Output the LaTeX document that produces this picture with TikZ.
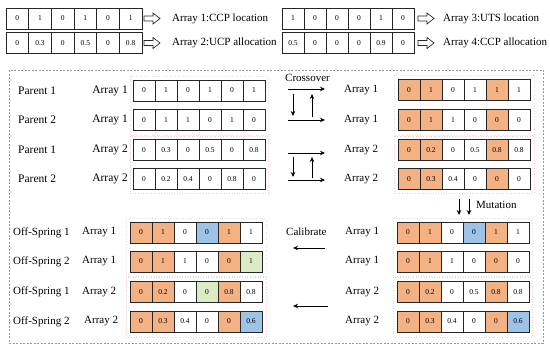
\documentclass[tikz,border=0pt]{standalone}
\usepackage{fontspec}
\setmainfont{Liberation Serif}
\usetikzlibrary{arrows.meta}
\definecolor{orng}{HTML}{F4B183}
\definecolor{blu}{HTML}{9DC3E6}
\definecolor{grn}{HTML}{DCEBC3}
\tikzset{
 cell/.style={draw=black!85, line width=0.7pt, minimum height=21pt, inner sep=0pt, font=\fontsize{7.5}{8}\selectfont},
 lbl/.style={font=\fontsize{11}{13}\selectfont, inner sep=0pt},
 plbl/.style={font=\fontsize{11.5}{13}\selectfont, inner sep=0pt},
 arr/.style={-{Stealth[length=5pt,width=4.5pt]}, line width=1pt},
 hollow/.style={line width=0.7pt, draw=black!85},
 outerbox/.style={draw=black!40, dashed, dash pattern=on 2pt off 1.5pt, line width=0.6pt},
 graybox/.style={draw=black!12, dotted, line width=0.6pt},
 pinkbox/.style={draw=red!22, dotted, line width=0.6pt},
}
\newcommand\cellrow[5]{%
 \foreach \v/\c [count=\i] in {#5} {\node[cell, minimum width=#4pt, fill=\c] (#1-\i) at ({#2+(\i-0.5)*#4}, #3) {\v};}}
\newcommand\hollowarrow[2]{%
 \draw[hollow] (#1,#2-2.5) -- (#1+9,#2-2.5) -- (#1+9,#2-5.5) -- (#1+16,#2) -- (#1+9,#2+5.5) -- (#1+9,#2+2.5) -- (#1,#2+2.5) -- cycle;}
\begin{document}
\begin{tikzpicture}[x=1pt,y=-1pt]
\useasboundingbox (0,0) rectangle (550,348);
% top legend
\cellrow{ta}{6}{18.5}{22.67}{0/white,1/white,0/white,1/white,0/white,1/white}
\cellrow{tb}{6}{43}{22.67}{0/white,0.3/white,0/white,0.5/white,0/white,0.8/white}
\cellrow{tc}{282}{18.5}{22}{1/white,0/white,0/white,0/white,1/white,0/white}
\cellrow{td}{282}{43}{22}{0.5/white,0/white,0/white,0/white,0.9/white,0/white}
\hollowarrow{144}{18.5}
\hollowarrow{144}{43}
\hollowarrow{418}{18.5}
\hollowarrow{418}{43}
\node[lbl, anchor=west] (la) at (172,18.5) {Array 1:CCP location};
\node[lbl, anchor=west] (lb) at (172,43) {Array 2:UCP allocation};
\node[lbl, anchor=west] (lc) at (443,18.5) {Array 3:UTS location};
\node[lbl, anchor=west] (ld) at (443,43) {Array 4:CCP allocation};
% outer box
\draw[outerbox] (9,70) rectangle (543,343);
% faint group boxes
\draw[graybox] (130,76) rectangle (268,135);
\draw[pinkbox] (130,136) rectangle (268,193);
\draw[graybox] (394,75) rectangle (534,135);
\draw[pinkbox] (394,136) rectangle (534,193);
\draw[graybox] (126,218) rectangle (266,276);
\draw[pinkbox] (126,277) rectangle (266,337);
\draw[graybox] (393,218) rectangle (532,276);
\draw[pinkbox] (393,277) rectangle (532,337);
% parents
\cellrow{pa}{133}{90.5}{22}{0/white,1/white,0/white,1/white,0/white,1/white}
\cellrow{pb}{133}{120}{22}{0/white,1/white,1/white,0/white,1/white,0/white}
\cellrow{pc}{133}{150}{22}{0/white,0.3/white,0/white,0.5/white,0/white,0.8/white}
\cellrow{pd}{133}{179}{22}{0/white,0.2/white,0.4/white,0/white,0.8/white,0/white}
\node[plbl, anchor=west] (n1) at (18,90.5) {Parent 1};
\node[plbl, anchor=west] (n2) at (18,120) {Parent 2};
\node[plbl, anchor=west] (n3) at (18,150) {Parent 1};
\node[plbl, anchor=west] (n4) at (18,179) {Parent 2};
\node[plbl, anchor=east] (a1) at (128,90.5) {Array 1};
\node[plbl, anchor=east] (a2) at (128,120) {Array 1};
\node[plbl, anchor=east] (a3) at (128,150) {Array 2};
\node[plbl, anchor=east] (a4) at (128,179) {Array 2};
% crossover result
\cellrow{ca}{398}{90}{22}{0/orng,1/orng,0/white,1/white,1/orng,1/white}
\cellrow{cb}{398}{120}{22}{0/orng,1/orng,1/white,0/white,0/orng,0/white}
\cellrow{cc}{398}{150}{22}{0/orng,0.2/orng,0/white,0.5/white,0.8/orng,0.8/white}
\cellrow{cd}{398}{179}{22}{0/orng,0.3/orng,0.4/white,0/white,0/orng,0/white}
\node[lbl, anchor=west] (b1) at (344,90) {Array 1};
\node[lbl, anchor=west] (b2) at (344,120) {Array 1};
\node[lbl, anchor=west] (b3) at (344,150) {Array 2};
\node[lbl, anchor=west] (b4) at (344,179) {Array 2};
% crossover arrows
\node[lbl, anchor=west] (cross) at (285,78) {Crossover};
\coordinate (h1s) at (288,89); \coordinate (h1e) at (325,89);
\coordinate (h2s) at (288,120); \coordinate (h2e) at (325,120);
\coordinate (d1s) at (293,94); \coordinate (d1e) at (293,116);
\coordinate (u1s) at (312,117); \coordinate (u1e) at (312,94);
\draw[arr] (h1s) -- (h1e);
\draw[arr] (h2s) -- (h2e);
\draw[arr] (d1s) -- (d1e);
\draw[arr] (u1s) -- (u1e);
\coordinate (h3s) at (288,153); \coordinate (h3e) at (325,153);
\coordinate (h4s) at (288,180); \coordinate (h4e) at (325,180);
\coordinate (d2s) at (293,157); \coordinate (d2e) at (293,177);
\coordinate (u2s) at (312,178); \coordinate (u2e) at (312,157);
\draw[arr] (h3s) -- (h3e);
\draw[arr] (h4s) -- (h4e);
\draw[arr] (d2s) -- (d2e);
\draw[arr] (u2s) -- (u2e);
% mutation
\coordinate (m1s) at (459,199); \coordinate (m1e) at (459,215);
\coordinate (m2s) at (469,199); \coordinate (m2e) at (469,215);
\draw[arr] (m1s) -- (m1e);
\draw[arr] (m2s) -- (m2e);
\node[lbl, anchor=west] (mut) at (476,205) {Mutation};
% mutated arrays
\cellrow{ma}{397}{232.5}{22}{0/orng,1/orng,0/white,0/blu,1/orng,1/white}
\cellrow{mb}{397}{261.5}{22}{0/orng,1/orng,1/white,0/white,0/orng,0/white}
\cellrow{mc}{397}{292}{22}{0/orng,0.2/orng,0/white,0.5/white,0.8/orng,0.8/white}
\cellrow{md}{397}{321.5}{22}{0/orng,0.3/orng,0.4/white,0/white,0/orng,0.6/blu}
\node[lbl, anchor=west] (e1) at (345,232.5) {Array 1};
\node[lbl, anchor=west] (e2) at (345,261.5) {Array 1};
\node[lbl, anchor=west] (e3) at (345,292) {Array 2};
\node[lbl, anchor=west] (e4) at (345,321.5) {Array 2};
% calibrate
\node[lbl, anchor=west] (cal) at (286,232) {Calibrate};
\coordinate (k1s) at (325,248); \coordinate (k1e) at (293,248);
\coordinate (k2s) at (328,306); \coordinate (k2e) at (293,306);
\draw[arr] (k1s) -- (k1e);
\draw[arr] (k2s) -- (k2e);
% offspring
\cellrow{oa}{130}{232.5}{22}{0/orng,1/orng,0/white,0/blu,1/orng,1/white}
\cellrow{ob}{130}{261.5}{22}{0/orng,1/orng,1/white,0/white,0/orng,1/grn}
\cellrow{oc}{130}{292}{22}{0/orng,0.2/orng,0/white,0/grn,0.8/orng,0.8/white}
\cellrow{od}{130}{321.5}{22}{0/orng,0.3/orng,0.4/white,0/white,0/orng,0.6/blu}
\node[lbl, anchor=west] (f1) at (13,232.5) {Off-Spring 1};
\node[lbl, anchor=west] (f2) at (13,261.5) {Off-Spring 2};
\node[lbl, anchor=west] (f3) at (13,292) {Off-Spring 1};
\node[lbl, anchor=west] (f4) at (13,321.5) {Off-Spring 2};
\node[lbl, anchor=west] (g1) at (82,232.5) {Array 1};
\node[lbl, anchor=west] (g2) at (82,261.5) {Array 1};
\node[lbl, anchor=west] (g3) at (82,292) {Array 2};
\node[lbl, anchor=west] (g4) at (84,321.5) {Array 2};
\end{tikzpicture}
\end{document}
